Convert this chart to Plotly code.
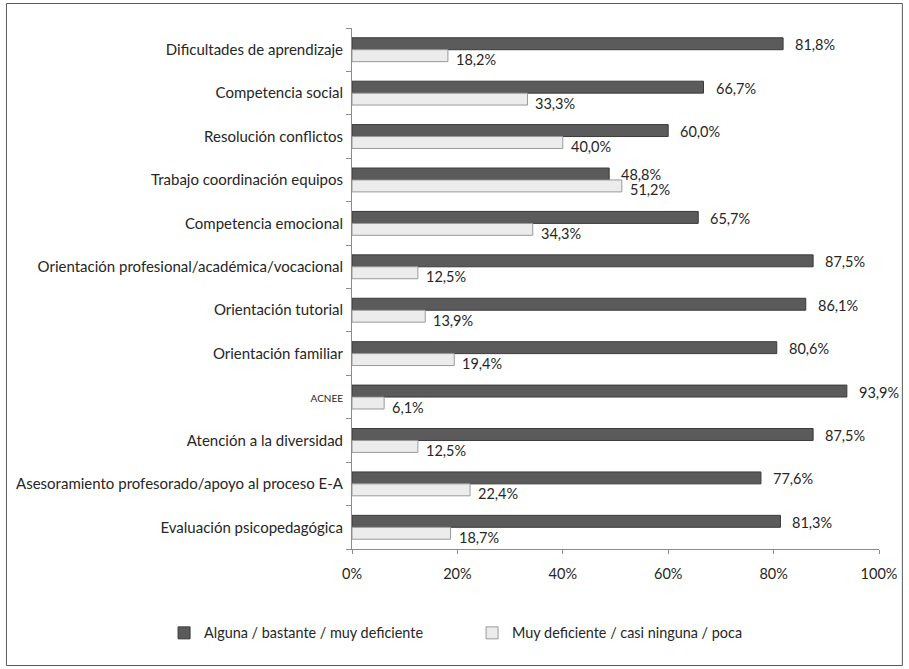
import plotly.graph_objects as go

# Categories (top to bottom)
categories = [
    "Dificultades de aprendizaje",
    "Competencia social",
    "Resolución conflictos",
    "Trabajo coordinación equipos",
    "Competencia emocional",
    "Orientación profesional/académica/vocacional",
    "Orientación tutorial",
    "Orientación familiar",
    "ACNEE",
    "Atención a la diversidad",
    "Asesoramiento profesorado/apoyo al proceso E-A",
    "Evaluación psicopedagógica",
]

# Series values (%)
alguna = [81.8, 66.7, 60.0, 48.8, 65.7, 87.5, 86.1, 80.6, 93.9, 87.5, 77.6, 81.3]
poca = [18.2, 33.3, 40.0, 51.2, 34.3, 12.5, 13.9, 19.4, 6.1, 12.5, 22.4, 18.7]

series_names = ["Alguna / bastante / muy deficiente", "Muy deficiente / casi ninguna / poca"]

# Tick labels for the category axis (ACNEE is set smaller)
tick_text = [
    "<span style='font-size:10px'>ACNEE</span>" if c == "ACNEE" else c
    for c in categories
]

x_ticks = [0, 20, 40, 60, 80, 100]

FONT = "Lato"
TXT = "#262626"


def pct(v):
    return f"{v:.1f}".replace(".", ",") + "%"


fig = go.Figure()
fig.add_trace(go.Bar(
    y=categories, x=alguna, orientation="h", name=series_names[0],
    marker=dict(color="#5b5b5b", line=dict(color="#3a3a3a", width=1)),
))
fig.add_trace(go.Bar(
    y=categories, x=poca, orientation="h", name=series_names[1],
    marker=dict(color="#ececec", line=dict(color="#9a9a9a", width=1)),
))

# value labels to the right of each bar
annotations = []
for c, a, p in zip(categories, alguna, poca):
    annotations.append(dict(x=a, y=c, xref="x", yref="y", text=pct(a),
                            showarrow=False, xanchor="left", xshift=10, yshift=5,
                            font=dict(family=FONT, size=14.5, color=TXT)))
    annotations.append(dict(x=p, y=c, xref="x", yref="y", text=pct(p),
                            showarrow=False, xanchor="left", xshift=6, yshift=-10,
                            font=dict(family=FONT, size=14.5, color=TXT)))

W, H = 909, 669
L, R, T, B = 352, 27, 28, 120
pw, ph = W - L - R, H - T - B


def px_to_paper_x(px):
    return (px - L) / pw


def px_to_paper_y(py):
    return (H - B - py) / ph


fig.update_layout(
    width=W, height=H,
    margin=dict(l=L, r=R, t=T, b=B),
    paper_bgcolor="white", plot_bgcolor="white",
    font=dict(family=FONT, size=14, color=TXT),
    barmode="group", bargap=0.45, bargroupgap=0.0,
    showlegend=True,
    legend=dict(orientation="h", x=px_to_paper_x(163), xanchor="left",
                y=px_to_paper_y(633), yanchor="middle",
                font=dict(family=FONT, size=14.4, color=TXT),
                traceorder="normal", entrywidth=263, entrywidthmode="pixels",
                itemwidth=30),
    annotations=annotations,
    shapes=[dict(type="rect", xref="paper", yref="paper",
                 x0=px_to_paper_x(4.5), x1=px_to_paper_x(905.5),
                 y0=px_to_paper_y(665.5), y1=px_to_paper_y(3.5),
                 line=dict(color="#595959", width=1), fillcolor="rgba(0,0,0,0)",
                 layer="below")],
)

fig.update_xaxes(range=[0, 100], tickvals=x_ticks,
                 ticktext=[f"{v}%" for v in x_ticks],
                 showgrid=False, zeroline=False, showline=True,
                 linecolor="#8c8c8c", linewidth=1, ticks="outside", ticklen=4,
                 tickcolor="#8c8c8c", ticklabelstandoff=8,
                 tickfont=dict(family=FONT, size=14.5, color=TXT),
                 fixedrange=True)
fig.update_yaxes(categoryorder="array", categoryarray=categories,
                 tickvals=categories, ticktext=tick_text,
                 autorange="reversed", showgrid=False, zeroline=False,
                 showline=True, linecolor="#8c8c8c", linewidth=1,
                 ticks="outside", ticklen=5, tickcolor="#8c8c8c",
                 tickson="boundaries", ticklabelstandoff=5,
                 tickfont=dict(family=FONT, size=15, color=TXT))

fig.write_html("out.html")
